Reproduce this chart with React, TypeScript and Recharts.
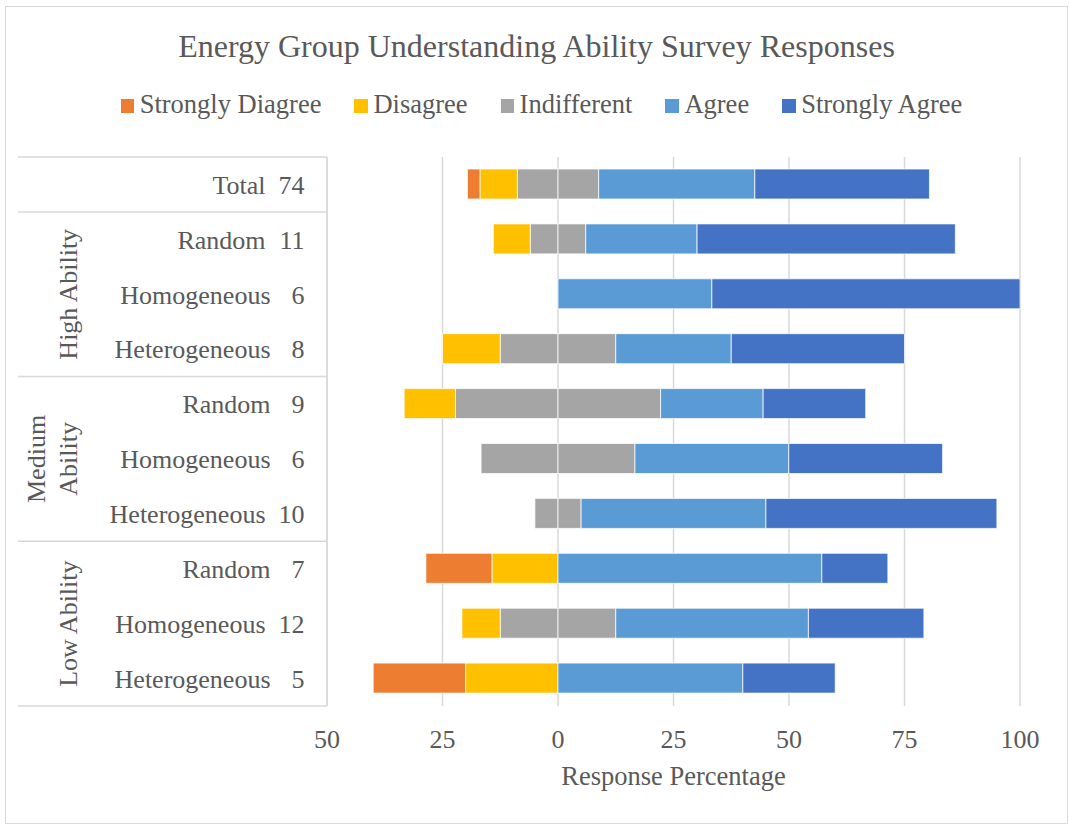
import React from 'react';
import { BarChart, Bar, XAxis, YAxis, CartesianGrid, Legend, Label } from 'recharts';

// ---- data ----
const rowNames = ['Total', 'Random', 'Homogeneous', 'Heterogeneous', 'Random', 'Homogeneous', 'Heterogeneous', 'Random', 'Homogeneous', 'Heterogeneous'];
const rowCounts = [74, 11, 6, 8, 9, 6, 10, 7, 12, 5];
const stronglyDisagree = [2.7, 0, 0, 0, 0, 0, 0, 14.3, 0, 20];
const disagree = [8.1, 8.0, 0, 12.5, 11.1, 0, 0, 14.3, 8.3, 20];
const indifferent = [17.6, 12.0, 0, 25, 44.4, 33.3, 10, 0, 25, 0];
const agree = [33.8, 24.1, 33.3, 25, 22.2, 33.3, 40, 57.1, 41.7, 40];
const stronglyAgree = [37.8, 55.9, 66.7, 37.5, 22.2, 33.3, 50, 14.3, 25, 20];

const groups = [
  { lines: ['High Ability'], first: 1, last: 3 },
  { lines: ['Medium', 'Ability'], first: 4, last: 6 },
  { lines: ['Low Ability'], first: 7, last: 9 },
];

const xTicks = [-50, -25, 0, 25, 50, 75, 100];

const legendItems = [
  { name: 'Strongly Diagree', color: '#ED7D31' },
  { name: 'Disagree', color: '#FFC000' },
  { name: 'Indifferent', color: '#A5A5A5' },
  { name: 'Agree', color: '#5B9BD5' },
  { name: 'Strongly Agree', color: '#4472C4' },
];

const data = rowNames.map((n, i) => ({
  id: 'r' + i,
  indNeg: -indifferent[i] / 2,
  indPos: indifferent[i] / 2,
  dis: -disagree[i],
  agr: agree[i],
  sdis: -stronglyDisagree[i],
  sagr: stronglyAgree[i],
}));

// ---- layout ----
const W = 1069;
const H = 825;
const M = { top: 157, right: 49, bottom: 29, left: 0 };
const X_AXIS_H = 90;
const Y_AXIS_W = 327;
const PLOT_H = H - M.top - M.bottom - X_AXIS_H;
const BAND = PLOT_H / rowNames.length;
const TEXT = '#595959';
const LINE = '#d9d9d9';
const FONT = '"Liberation Serif", "Times New Roman", serif';

const YTick = (props: any) => {
  const { y, payload } = props;
  const i = data.findIndex((d) => d.id === payload.value);
  if (i < 0) return null;
  const countStr = String(rowCounts[i]);
  const numRight = 304.5;
  const nameEnd = countStr.length === 2 ? 265.5 : 270.5;
  const els: any[] = [];
  const startsGroup = i === 0 || groups.some((g) => g.first === i);
  if (startsGroup) {
    els.push(<line key="t" x1={18} x2={Y_AXIS_W} y1={y - BAND / 2} y2={y - BAND / 2} stroke={LINE} strokeWidth={1.5} />);
  }
  if (i === rowNames.length - 1) {
    els.push(<line key="b" x1={18} x2={Y_AXIS_W} y1={y + BAND / 2} y2={y + BAND / 2} stroke={LINE} strokeWidth={1.5} />);
  }
  const g = groups.find((gg) => (gg.first + gg.last) / 2 === i);
  if (g) {
    const n = g.lines.length;
    g.lines.forEach((ln, k) => {
      const bx = n === 1 ? 77 : 45 + k * 31.5;
      els.push(
        <text key={'g' + k} transform={`translate(${bx}, ${y}) rotate(-90)`} textAnchor="middle" fill={TEXT} fontSize={26} fontFamily={FONT}>
          {ln}
        </text>
      );
    });
  }
  els.push(
    <text key="n" x={nameEnd} y={y} dy={9.3} textAnchor="end" fill={TEXT} fontSize={26} fontFamily={FONT}>
      {rowNames[i]}
    </text>
  );
  els.push(
    <text key="c" x={numRight} y={y} dy={9.3} textAnchor="end" fill={TEXT} fontSize={26} fontFamily={FONT}>
      {countStr}
    </text>
  );
  return <g>{els}</g>;
};

const LegendContent = () => (
  <div style={{ display: 'flex', justifyContent: 'center', paddingLeft: 14, fontFamily: FONT, fontSize: 26.5, lineHeight: '26px', color: TEXT }}>
    {legendItems.map((it, i) => (
      <div key={it.name} style={{ display: 'flex', alignItems: 'flex-start', marginLeft: i === 0 ? 0 : 33 }}>
        <span style={{ display: 'inline-block', width: 13.4, height: 13.4, background: it.color, marginTop: 8.1, marginRight: 5.6 }} />
        <span style={{ whiteSpace: 'nowrap' }}>{it.name}</span>
      </div>
    ))}
  </div>
);

export default function App() {
  return (
    <div style={{ position: 'absolute', left: 0, top: 0, width: W, height: H, background: '#fff', fontFamily: FONT, overflow: 'hidden' }}>
      <BarChart width={W} height={H} data={data} layout="vertical" margin={M} stackOffset="sign" barSize={30}>
        <CartesianGrid horizontal={false} stroke={LINE} strokeWidth={1.5} />
        <XAxis
          type="number"
          domain={[-50, 100]}
          ticks={xTicks}
          tickFormatter={(v: number) => String(Math.abs(v))}
          axisLine={false}
          tickLine={false}
          tickMargin={17.5}
          height={X_AXIS_H}
          tick={{ fill: TEXT, fontSize: 26, fontFamily: FONT }}
          allowDataOverflow
        >
          <Label value="Response Percentage" position="insideBottom" offset={11} fill={TEXT} fontSize={26.5} fontFamily={FONT} />
        </XAxis>
        <YAxis type="category" dataKey="id" width={Y_AXIS_W} axisLine={{ stroke: LINE, strokeWidth: 1.5 }} tickLine={false} tick={<YTick />} interval={0} />
        <Legend verticalAlign="middle" align="center" content={<LegendContent />} wrapperStyle={{ top: 91.2, left: 0, width: W }} />
        <Bar dataKey="indNeg" stackId="s" fill="#A5A5A5" stroke="#fff" strokeWidth={0.75} isAnimationActive={false} />
        <Bar dataKey="indPos" stackId="s" fill="#A5A5A5" stroke="#fff" strokeWidth={0.75} isAnimationActive={false} />
        <Bar dataKey="dis" stackId="s" fill="#FFC000" stroke="#fff" strokeWidth={0.75} isAnimationActive={false} />
        <Bar dataKey="agr" stackId="s" fill="#5B9BD5" stroke="#fff" strokeWidth={0.75} isAnimationActive={false} />
        <Bar dataKey="sdis" stackId="s" fill="#ED7D31" stroke="#fff" strokeWidth={0.75} isAnimationActive={false} />
        <Bar dataKey="sagr" stackId="s" fill="#4472C4" stroke="#fff" strokeWidth={0.75} isAnimationActive={false} />
      </BarChart>
      <div style={{ position: 'absolute', left: 0, top: 30.2, width: W, paddingLeft: 4, boxSizing: 'border-box', textAlign: 'center', fontSize: 32, lineHeight: '32px', color: TEXT, fontFamily: FONT, pointerEvents: 'none' }}>
        Energy Group Understanding Ability Survey Responses
      </div>
      <div style={{ position: 'absolute', left: 4.5, top: 5.5, width: 1063, height: 818, border: `1.5px solid ${LINE}`, boxSizing: 'border-box', pointerEvents: 'none' }} />
    </div>
  );
}
